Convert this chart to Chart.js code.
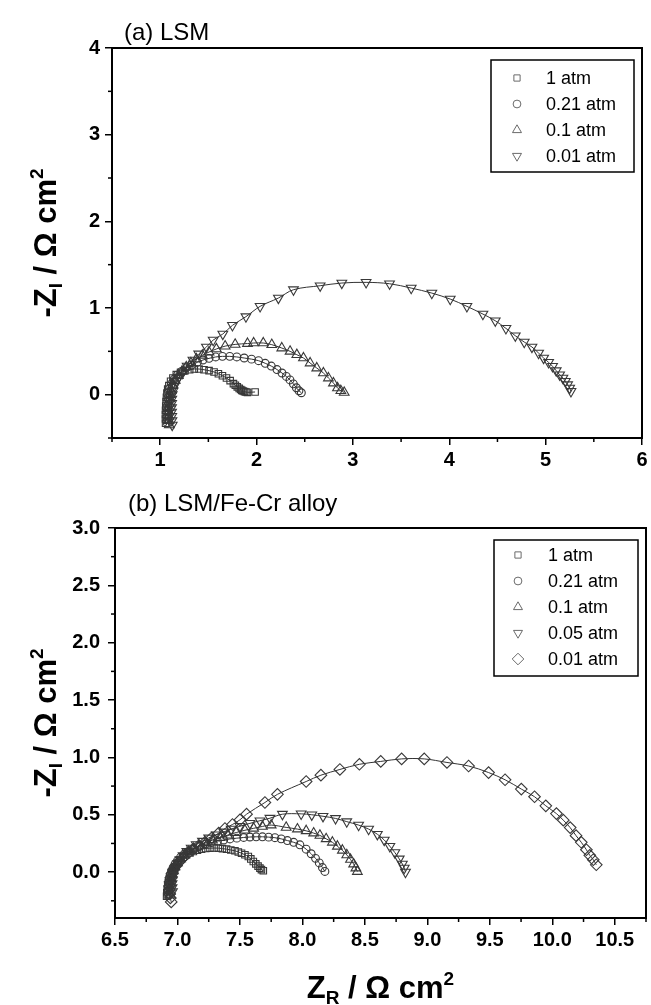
<!DOCTYPE html>
<html><head><meta charset="utf-8">
<script src="https://cdn.jsdelivr.net/npm/chart.js@4.4.1/dist/chart.umd.min.js"></script>
<style>
html,body{margin:0;padding:0;background:#fff;}
#wrap{position:relative;width:651px;height:1005px;overflow:hidden;}
#ca{position:absolute;left:0;top:0;}
#cb{position:absolute;left:0;top:470px;}
</style></head><body>
<div id="wrap"><canvas id="ca" width="651" height="470"></canvas><canvas id="cb" width="651" height="535"></canvas></div>
<script>
// ---------------- Panel (a) LSM ----------------
const aLabels = ['1 atm', '0.21 atm', '0.1 atm', '0.01 atm'];
const a1_x = [1.056,1.055,1.055,1.056,1.058,1.061,1.065,1.07,1.078,1.09,1.108,1.132,1.167,1.212,1.257,1.306,1.354,1.403,1.455,1.507,1.559,1.604,1.646,1.688,1.726,1.76,1.78,1.8,1.82,1.835,1.847,1.86,1.875,1.89,1.906,1.985];
const a1_y = [-0.33,-0.28,-0.23,-0.18,-0.13,-0.08,-0.03,0.02,0.065,0.104,0.154,0.192,0.231,0.258,0.277,0.288,0.296,0.296,0.288,0.277,0.262,0.242,0.219,0.192,0.162,0.127,0.108,0.09,0.072,0.06,0.05,0.042,0.035,0.03,0.027,0.031];
const a021_x = [1.075,1.073,1.073,1.074,1.076,1.079,1.083,1.089,1.097,1.118,1.146,1.181,1.222,1.271,1.326,1.385,1.444,1.507,1.576,1.646,1.722,1.795,1.872,1.948,2.021,2.09,2.153,2.212,2.264,2.309,2.347,2.382,2.413,2.44,2.465];
const a021_y = [-0.33,-0.28,-0.23,-0.18,-0.13,-0.08,-0.03,0.02,0.065,0.127,0.181,0.227,0.269,0.308,0.342,0.373,0.40,0.419,0.435,0.442,0.442,0.435,0.423,0.41,0.392,0.362,0.33,0.29,0.25,0.21,0.17,0.125,0.08,0.045,0.022];
const a01_x = [1.095,1.092,1.091,1.092,1.094,1.097,1.101,1.106,1.115,1.132,1.156,1.188,1.226,1.271,1.319,1.375,1.438,1.507,1.583,1.674,1.778,1.906,1.97,2.07,2.158,2.262,2.348,2.418,2.487,2.556,2.625,2.694,2.746,2.798,2.84,2.875,2.91];
const a01_y = [-0.35,-0.3,-0.25,-0.2,-0.15,-0.1,-0.05,0.0,0.05,0.112,0.165,0.219,0.269,0.319,0.365,0.412,0.454,0.492,0.527,0.56,0.58,0.59,0.596,0.596,0.577,0.538,0.5,0.461,0.423,0.365,0.307,0.25,0.192,0.134,0.077,0.045,0.025];
const a001_x = [1.125,1.122,1.12,1.118,1.118,1.119,1.12,1.125,1.132,1.146,1.167,1.194,1.23,1.28,1.34,1.40,1.48,1.55,1.65,1.75,1.89,2.037,2.227,2.383,2.66,2.885,3.137,3.38,3.605,3.819,4.01,4.183,4.349,4.477,4.588,4.685,4.778,4.858,4.927,4.979,5.031,5.072,5.11,5.145,5.179,5.204,5.228,5.249,5.263];
const a001_y = [-0.35,-0.3,-0.25,-0.2,-0.15,-0.1,-0.05,0.0,0.04,0.096,0.154,0.204,0.25,0.33,0.40,0.47,0.55,0.63,0.70,0.80,0.90,1.019,1.115,1.211,1.257,1.288,1.296,1.28,1.23,1.172,1.103,1.019,0.93,0.853,0.765,0.68,0.607,0.55,0.48,0.423,0.373,0.327,0.277,0.23,0.192,0.154,0.115,0.077,0.038];
const aXTicks = [1, 2, 3, 4, 5, 6];
const aXMinor = [0.5, 1.5, 2.5, 3.5, 4.5, 5.5];
const aYTicks = [0, 1, 2, 3, 4];
const aYMinor = [-0.5, 0.5, 1.5, 2.5, 3.5];

// ---------------- Panel (b) LSM/Fe-Cr alloy ----------------
const bLabels = ['1 atm', '0.21 atm', '0.1 atm', '0.05 atm', '0.01 atm'];
const b1_x = [6.913,6.915,6.918,6.922,6.927,6.934,6.943,6.953,6.966,6.98,7.0,7.02,7.045,7.073,7.1,7.127,7.16,7.193,7.226,7.26,7.293,7.327,7.36,7.393,7.427,7.46,7.487,7.513,7.54,7.567,7.587,7.607,7.627,7.645,7.66,7.672,7.687];
const b1_y = [-0.21,-0.18,-0.15,-0.12,-0.09,-0.06,-0.03,0.0,0.025,0.049,0.08,0.107,0.13,0.151,0.167,0.18,0.191,0.2,0.206,0.209,0.21,0.209,0.205,0.2,0.193,0.186,0.176,0.165,0.151,0.136,0.115,0.093,0.072,0.052,0.035,0.022,0.012];
const b021_x = [6.93,6.928,6.928,6.93,6.935,6.942,6.952,6.965,6.98,7.0,7.025,7.055,7.09,7.13,7.175,7.22,7.27,7.32,7.37,7.42,7.475,7.53,7.58,7.63,7.68,7.73,7.78,7.83,7.88,7.93,7.98,8.03,8.07,8.105,8.135,8.16,8.18];
const b021_y = [-0.2,-0.165,-0.13,-0.095,-0.06,-0.025,0.01,0.04,0.07,0.1,0.13,0.158,0.183,0.205,0.225,0.242,0.257,0.27,0.28,0.289,0.296,0.302,0.306,0.308,0.308,0.305,0.3,0.29,0.275,0.26,0.238,0.2,0.16,0.12,0.08,0.04,0.006];
const b01_x = [6.945,6.942,6.942,6.945,6.95,6.958,6.968,6.98,7.0,7.025,7.055,7.09,7.13,7.175,7.225,7.28,7.34,7.4,7.47,7.54,7.61,7.68,7.75,7.87,7.96,8.03,8.09,8.14,8.19,8.24,8.28,8.32,8.355,8.385,8.41,8.428,8.44];
const b01_y = [-0.2,-0.165,-0.13,-0.095,-0.06,-0.025,0.01,0.045,0.08,0.115,0.15,0.18,0.207,0.232,0.256,0.278,0.3,0.322,0.345,0.365,0.382,0.398,0.41,0.39,0.375,0.36,0.34,0.32,0.29,0.26,0.225,0.19,0.15,0.11,0.07,0.035,0.005];
const b005_x = [6.96,6.957,6.957,6.96,6.965,6.973,6.985,7.0,7.02,7.045,7.075,7.11,7.15,7.2,7.25,7.31,7.37,7.43,7.5,7.58,7.66,7.74,7.84,7.99,8.075,8.165,8.265,8.355,8.45,8.53,8.6,8.655,8.7,8.74,8.775,8.8,8.815,8.825];
const b005_y = [-0.17,-0.135,-0.1,-0.065,-0.03,0.005,0.04,0.075,0.11,0.145,0.18,0.21,0.24,0.27,0.298,0.325,0.35,0.375,0.4,0.425,0.448,0.47,0.505,0.508,0.5,0.487,0.468,0.44,0.41,0.375,0.33,0.28,0.225,0.17,0.115,0.07,0.035,0.0];
const b001_x = [6.95,6.943,6.938,6.936,6.937,6.94,6.946,6.955,6.97,6.99,7.015,7.045,7.08,7.12,7.17,7.22,7.275,7.33,7.38,7.44,7.5,7.553,7.70,7.80,8.03,8.148,8.30,8.456,8.627,8.794,8.975,9.157,9.33,9.49,9.622,9.752,9.858,9.948,10.033,10.088,10.143,10.19,10.232,10.273,10.30,10.328,10.352];
const b001_y = [-0.26,-0.225,-0.19,-0.155,-0.12,-0.085,-0.05,-0.015,0.02,0.055,0.09,0.125,0.16,0.195,0.23,0.26,0.3,0.34,0.38,0.415,0.456,0.505,0.607,0.678,0.79,0.845,0.895,0.94,0.965,0.987,0.987,0.956,0.925,0.868,0.805,0.724,0.657,0.578,0.51,0.453,0.388,0.318,0.26,0.195,0.146,0.108,0.064];
const bXTicks = [6.5, 7, 7.5, 8, 8.5, 9, 9.5, 10, 10.5];
const bXMinor = [6.75, 7.25, 7.75, 8.25, 8.75, 9.25, 9.75, 10.25, 10.75];
const bYTicks = [0, 0.5, 1, 1.5, 2, 2.5, 3];
const bYMinor = [-0.25, 0.25, 0.75, 1.25, 1.75, 2.25, 2.75];

// ---------------- styling ----------------
const FONT = "'Liberation Sans', Arial, Helvetica, sans-serif";
const SQ = {pointStyle: 'rect', rotation: 0, r: 4.6, lr: 4.4};
const CI = {pointStyle: 'circle', rotation: 0, r: 3.9, lr: 3.9};
const TU = {pointStyle: 'triangle', rotation: 0, r: 5.6, lr: 5.2};
const TD = {pointStyle: 'triangle', rotation: 180, r: 5.6, lr: 5.2};
const DI = {pointStyle: 'rectRot', rotation: 0, r: 5.8, lr: 5.8};
const MARK = '#383838';

function pts(xs, ys) { return xs.map((x, i) => ({x: x, y: ys[i]})); }
function ds(label, xs, ys, st) {
  return {
    label: label, data: pts(xs, ys), showLine: true, tension: 0.35,
    borderColor: '#333', borderWidth: 1,
    pointStyle: st.pointStyle, pointRotation: st.rotation, pointRadius: st.r, pointHoverRadius: st.r,
    pointBorderColor: MARK, pointBackgroundColor: 'rgba(0,0,0,0)', pointBorderWidth: 1.1,
    _legR: st.lr
  };
}
function scaleCfg(min, max, majors, fmt, size, isX, pad) {
  return {
    type: 'linear', min: min, max: max,
    afterBuildTicks(s) { s.ticks = majors.map(v => ({value: v})); },
    afterFit(s) { if (isX) s.height = size; else s.width = size; },
    grid: {drawOnChartArea: false, drawTicks: true, tickLength: 7, color: '#000', lineWidth: 1.5},
    border: {display: true, color: '#000', width: 2},
    ticks: {color: '#000', font: {family: FONT, size: 20, weight: 'bold'}, padding: pad,
            maxRotation: 0, autoSkip: false, callback: (v) => fmt(v)}
  };
}
function richWidth(ctx, parts) {
  let w = 0;
  parts.forEach(p => { ctx.font = 'bold ' + p.s + 'px ' + FONT; w += ctx.measureText(p.t).width; });
  return w;
}
function drawRich(ctx, parts, x, y) {
  parts.forEach(p => {
    ctx.font = 'bold ' + p.s + 'px ' + FONT;
    ctx.fillText(p.t, x, y + (p.dy || 0));
    x += ctx.measureText(p.t).width;
  });
}
const yTitleParts = [{t: '-Z', s: 31}, {t: 'I', s: 19, dy: 6}, {t: ' / \u03A9 cm', s: 31}, {t: '2', s: 19, dy: -13}];
const xTitleParts = [{t: 'Z', s: 31}, {t: 'R', s: 19, dy: 6}, {t: ' / \u03A9 cm', s: 31}, {t: '2', s: 19, dy: -13}];

const deco = {
  id: 'deco',
  afterDraw(chart, args, o) {
    const ctx = chart.ctx, ca = chart.chartArea, xs = chart.scales.x, ys = chart.scales.y;
    ctx.save();
    // frame (top & right)
    ctx.strokeStyle = '#000'; ctx.lineWidth = 2;
    ctx.beginPath(); ctx.moveTo(ca.left - 1, ca.top); ctx.lineTo(ca.right, ca.top); ctx.lineTo(ca.right, ca.bottom + 1); ctx.stroke();
    // minor ticks
    ctx.lineWidth = 1.5;
    o.xMinor.forEach(v => { const p = xs.getPixelForValue(v); ctx.beginPath(); ctx.moveTo(p, ca.bottom); ctx.lineTo(p, ca.bottom + 4); ctx.stroke(); });
    o.yMinor.forEach(v => { const p = ys.getPixelForValue(v); ctx.beginPath(); ctx.moveTo(ca.left, p); ctx.lineTo(ca.left - 4, p); ctx.stroke(); });
    // panel title
    ctx.fillStyle = '#000'; ctx.textAlign = 'left'; ctx.textBaseline = 'alphabetic';
    ctx.font = '24px ' + FONT;
    ctx.fillText(o.title, o.titleX, o.titleY);
    // y axis title
    ctx.save();
    ctx.translate(o.yTitleX, (ca.top + ca.bottom) / 2);
    ctx.rotate(-Math.PI / 2);
    const wy = richWidth(ctx, yTitleParts);
    drawRich(ctx, yTitleParts, -wy / 2, 0);
    ctx.restore();
    // x axis title
    if (o.xTitleY) {
      const wx = richWidth(ctx, xTitleParts);
      drawRich(ctx, xTitleParts, (ca.left + ca.right) / 2 - wx / 2, o.xTitleY);
    }
    // legend box
    const L = o.legend;
    const n = chart.data.datasets.length;
    const h = n * L.rowH + L.extra;
    ctx.strokeStyle = '#000'; ctx.lineWidth = 1.5;
    ctx.strokeRect(L.left, L.top, ca.right - L.rightGap - L.left, h);
    chart.data.datasets.forEach((d, i) => {
      const y = L.top + L.first + i * L.rowH;
      ctx.save();
      ctx.strokeStyle = '#6a6a6a'; ctx.lineWidth = 1; ctx.fillStyle = 'rgba(0,0,0,0)';
      Chart.helpers.drawPoint(ctx, {pointStyle: d.pointStyle, rotation: d.pointRotation, radius: d._legR, borderWidth: 1},
        L.left + L.symX, y);
      ctx.restore();
      ctx.fillStyle = '#000'; ctx.font = '18px ' + FONT; ctx.textBaseline = 'middle'; ctx.textAlign = 'left';
      ctx.fillText(d.label, L.left + L.textX, y + 1);
    });
    ctx.restore();
  }
};

Chart.defaults.font.family = FONT;
Chart.defaults.animation = false;

new Chart(document.getElementById('ca'), {
  type: 'scatter',
  data: {datasets: [
    ds(aLabels[0], a1_x, a1_y, SQ),
    ds(aLabels[1], a021_x, a021_y, CI),
    ds(aLabels[2], a01_x, a01_y, TU),
    ds(aLabels[3], a001_x, a001_y, TD)
  ]},
  options: {
    responsive: false, devicePixelRatio: 1, animation: false,
    layout: {padding: {top: 48, right: 9, left: 0, bottom: 0}, autoPadding: false},
    scales: {
      x: scaleCfg(0.5, 6, aXTicks, v => String(v), 32, true, 3),
      y: scaleCfg(-0.5, 4, aYTicks, v => String(v), 112, false, 5)
    },
    plugins: {
      legend: {display: false}, tooltip: {enabled: false},
      deco: {xMinor: aXMinor, yMinor: aYMinor, title: '(a) LSM', titleX: 124, titleY: 40, yTitleX: 56,
             legend: {left: 491, top: 60, rightGap: 8, rowH: 26, extra: 8, first: 18, symX: 26, textX: 55}}
    }
  },
  plugins: [deco]
});

new Chart(document.getElementById('cb'), {
  type: 'scatter',
  data: {datasets: [
    ds(bLabels[0], b1_x, b1_y, SQ),
    ds(bLabels[1], b021_x, b021_y, CI),
    ds(bLabels[2], b01_x, b01_y, TU),
    ds(bLabels[3], b005_x, b005_y, TD),
    ds(bLabels[4], b001_x, b001_y, DI)
  ]},
  options: {
    responsive: false, devicePixelRatio: 1, animation: false,
    layout: {padding: {top: 58, right: 5, left: 0, bottom: 0}, autoPadding: false},
    scales: {
      x: scaleCfg(6.5, 10.75, bXTicks, v => v.toFixed(1), 87, true, 3),
      y: scaleCfg(-0.4, 3, bYTicks, v => v.toFixed(1), 115, false, 8)
    },
    plugins: {
      legend: {display: false}, tooltip: {enabled: false},
      deco: {xMinor: bXMinor, yMinor: bYMinor, title: '(b) LSM/Fe-Cr alloy', titleX: 128, titleY: 41, yTitleX: 56, xTitleY: 528,
             legend: {left: 494, top: 70, rightGap: 8, rowH: 26, extra: 6, first: 15, symX: 24, textX: 54}}
    }
  },
  plugins: [deco]
});
</script>
</body></html>
